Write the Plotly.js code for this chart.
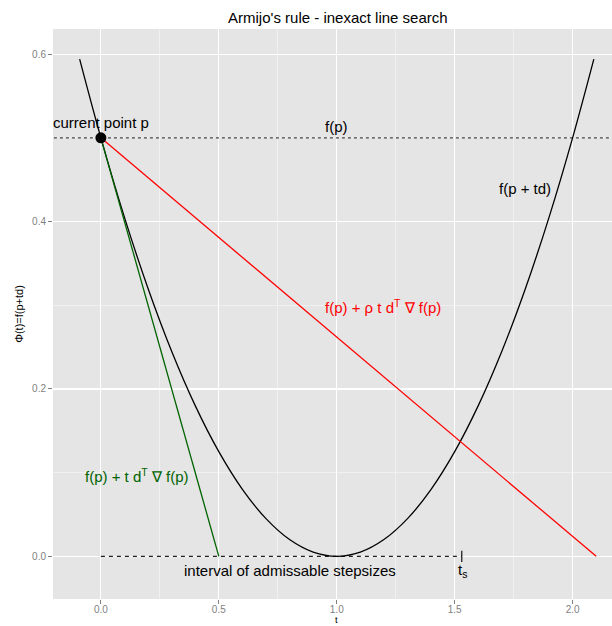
<!DOCTYPE html>
<html>
<head>
<meta charset="utf-8">
<script src="https://cdn.plot.ly/plotly-3.0.1.min.js"></script>
<style>html,body{margin:0;padding:0;background:#fff;}#plot{width:612px;height:626px;}</style>
</head>
<body>
<div id="plot"></div>
<script>
// Curve f(p + t d)
const curveT = [-0.09, 0, 0.1, 0.2, 0.3, 0.4, 0.5, 0.6, 0.7, 0.8, 0.9, 1.0, 1.1, 1.2, 1.3, 1.4, 1.5, 1.6, 1.7, 1.8, 1.9, 2.0, 2.09];
const curveY = [0.594, 0.5, 0.405, 0.32, 0.245, 0.18, 0.125, 0.08, 0.045, 0.02, 0.005, 0, 0.005, 0.02, 0.045, 0.08, 0.125, 0.18, 0.245, 0.32, 0.405, 0.5, 0.594];
// Armijo line f(p) + rho t d^T grad f(p)
const redT = [0, 2.1];
const redY = [0.5, 0];
// Tangent f(p) + t d^T grad f(p)
const greenT = [0, 0.5];
const greenY = [0.5, 0];
// Admissible interval
const intervalT = [0, 1.53];
const intervalY = [0, 0];
const tsT = [1.53];
const tsY = [0];
// Current point
const pointT = [0];
const pointY = [0.5];
// f(p) level
const levelT = [-0.25, 2.3];
const levelY = [0.5, 0.5];
// tick labels
const xTickVals = [0, 0.5, 1.0, 1.5, 2.0];
const xTickText = ["0.0", "0.5", "1.0", "1.5", "2.0"];
const yTickVals = [0, 0.2, 0.4, 0.6];
const yTickText = ["0.0", "0.2", "0.4", "0.6"];

const traces = [
  {x: levelT, y: levelY, mode: 'lines', line: {color: '#444', width: 1.2, dash: 'dot'}, hoverinfo: 'skip'},
  {x: intervalT, y: intervalY, mode: 'lines', line: {color: '#222', width: 1.3, dash: '4px,4px'}, hoverinfo: 'skip'},
  {x: tsT, y: tsY, mode: 'markers', marker: {symbol: 'line-ns', size: 8, line: {color: '#222', width: 1.3}}, hoverinfo: 'skip'},
  {x: curveT, y: curveY, mode: 'lines', line: {color: '#000', width: 1.3, shape: 'spline', smoothing: 1}, hoverinfo: 'skip'},
  {x: redT, y: redY, mode: 'lines', line: {color: '#FF0000', width: 1.3}, hoverinfo: 'skip'},
  {x: greenT, y: greenY, mode: 'lines', line: {color: '#006400', width: 1.3}, hoverinfo: 'skip'},
  {x: pointT, y: pointY, mode: 'markers', marker: {color: '#000', size: 11}, hoverinfo: 'skip'}
];

const FF = 'Liberation Sans, Arial, sans-serif';
const af = {family: FF, size: 15, color: '#000'};
const annotations = [
  {x: 0, y: 0.518, text: 'current point p', font: af},
  {x: 1.0, y: 0.513, text: 'f(p)', font: af},
  {x: 1.797, y: 0.44, text: 'f(p + td)', font: af},
  {x: 1.198, y: 0.298, text: 'f(p) + ρ t d<sup>T</sup> ∇ f(p)', font: Object.assign({}, af, {color: '#FF0000'})},
  {x: 0.152, y: 0.097, text: 'f(p) + t d<sup>T</sup> ∇ f(p)', font: Object.assign({}, af, {color: '#006400'})},
  {x: 0.8, y: -0.017, text: 'interval of admissable stepsizes', font: af},
  {x: 1.535, y: -0.017, text: 't<sub>s</sub>', font: af}
].map(a => Object.assign({xref: 'x', yref: 'y', showarrow: false, xanchor: 'center', yanchor: 'middle'}, a));
// x axis title, centred on the full (clipped) panel
annotations.push({xref: 'x', yref: 'paper', x: 1.0, y: -0.0475, text: 't', showarrow: false, borderpad: 0,
  xanchor: 'center', yanchor: 'bottom', font: {family: FF, size: 9.5, color: '#000'}});

const axisBase = {
  showgrid: true, gridcolor: '#FFFFFF', gridwidth: 1.2,
  zeroline: false, showline: false,
  ticks: 'outside', ticklen: 4, tickcolor: '#7F7F7F', tickwidth: 1,
  tickfont: {family: FF, size: 10, color: '#7F7F7F'},
  tickmode: 'array'
};

const layout = {
  width: 612, height: 626,
  margin: {l: 53, r: 0, t: 29, b: 27},
  paper_bgcolor: '#FFFFFF',
  plot_bgcolor: '#E5E5E5',
  showlegend: false,
  title: {text: "Armijo's rule - inexact line search", x: 0.552, xref: 'container', xanchor: 'center', y: 0.971, yref: 'container', yanchor: 'middle',
          font: {family: FF, size: 15, color: '#000'}},
  xaxis: Object.assign({}, axisBase, {
    range: [-0.203, 2.167], tickvals: xTickVals, ticktext: xTickText, ticklabelstandoff: -3,
    minor: {dtick: 0.25, tick0: 0.25, showgrid: true, gridcolor: '#F2F2F2', gridwidth: 0.8, ticks: ''}
  }),
  yaxis: Object.assign({}, axisBase, {
    range: [-0.051, 0.630], tickvals: yTickVals, ticktext: yTickText,
    minor: {dtick: 0.1, tick0: 0.1, showgrid: true, gridcolor: '#F2F2F2', gridwidth: 0.8, ticks: ''},
    title: {text: 'Φ(t)=f(p+td)', font: {family: FF, size: 11, color: '#000'}, standoff: 6}
  }),
  annotations: annotations
};

Plotly.newPlot('plot', traces, layout, {displayModeBar: false, staticPlot: true});
</script>
</body>
</html>
